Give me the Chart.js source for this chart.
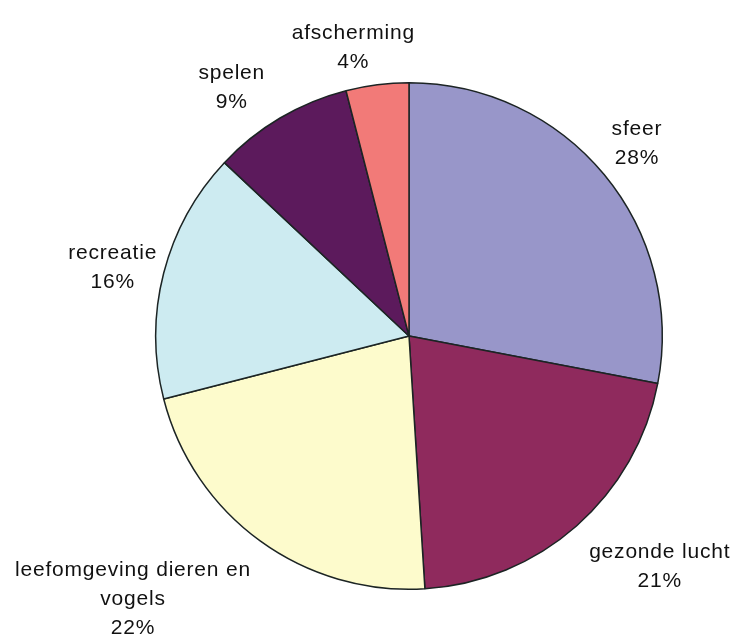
<!DOCTYPE html>
<html>
<head>
<meta charset="utf-8">
<script src="https://cdn.jsdelivr.net/npm/chart.js@4"></script>
<style>
  html, body { margin: 0; padding: 0; background: #ffffff; }
  #wrap { width: 734px; height: 639px; }
</style>
</head>
<body>
<div id="wrap"><canvas id="pie"></canvas></div>
<script>
// categories, clockwise from 12 o'clock
const categories = ['sfeer', 'gezonde lucht', 'leefomgeving dieren en vogels', 'recreatie', 'spelen', 'afscherming'];
const percentages = [28, 21, 22, 16, 9, 4];
// how each label is broken over lines
const labelLines = [
    ['sfeer'],
    ['gezonde lucht'],
    ['leefomgeving dieren en', 'vogels'],
    ['recreatie'],
    ['spelen'],
    ['afscherming']
];

const sliceColors = ['#9896c9', '#8f2a5d', '#fdfbcc', '#cdebf1', '#5c1a5c', '#f27a78'];
// label block centres, relative to pie centre, in units of radius
const labelOffsets = [
    [0.90, -0.76],
    [0.99, 0.91],
    [-1.09, 1.04],
    [-1.17, -0.27],
    [-0.70, -0.98],
    [-0.22, -1.14]
];

const outsideLabels = {
    id: 'outsideLabels',
    afterDraw(chart) {
        const { ctx } = chart;
        const arc = chart.getDatasetMeta(0).data[0];
        const cx = arc.x, cy = arc.y, r = arc.outerRadius;
        const lineH = 29;
        ctx.save();
        ctx.font = '21px "Liberation Sans", Arial, sans-serif';
        ctx.letterSpacing = '0.8px';
        ctx.fillStyle = '#111111';
        ctx.textAlign = 'center';
        ctx.textBaseline = 'middle';
        percentages.forEach((p, i) => {
            const lines = labelLines[i].concat([p + '%']);
            const x = cx + labelOffsets[i][0] * r;
            const y0 = cy + labelOffsets[i][1] * r - (lines.length - 1) * lineH / 2;
            lines.forEach((t, j) => ctx.fillText(t, x, y0 + j * lineH));
        });
        ctx.restore();
    }
};

new Chart(document.getElementById('pie'), {
    type: 'pie',
    data: {
        labels: categories,
        datasets: [{
            data: percentages,
            backgroundColor: sliceColors,
            borderColor: '#1c2424',
            borderWidth: 1.5,
            hoverOffset: 0,
            offset: 0
        }]
    },
    options: {
        responsive: true,
        maintainAspectRatio: false,
        animation: false,
        events: [],
        layout: {
            padding: { left: 155, right: 71, top: 82, bottom: 49 }
        },
        plugins: {
            legend: { display: false },
            tooltip: { enabled: false }
        }
    },
    plugins: [outsideLabels]
});
</script>
</body>
</html>
